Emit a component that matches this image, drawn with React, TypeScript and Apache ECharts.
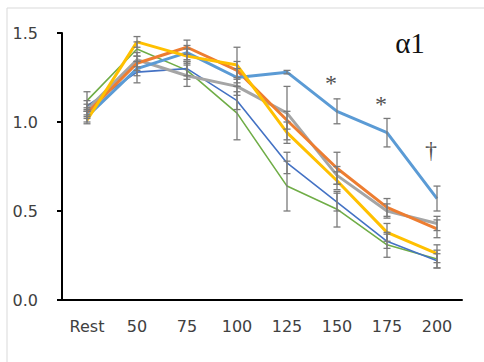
import React, { useEffect, useRef } from "react";
import * as echarts from "echarts";

const categories = ["Rest", "50", "75", "100", "125", "150", "175", "200"];
const yTicks = [0, 0.5, 1.0, 1.5];

const green = [1.12, 1.41, 1.29, 1.05, 0.64, 0.51, 0.31, 0.23];
const darkBlue = [1.09, 1.28, 1.3, 1.12, 0.77, 0.55, 0.33, 0.22];
const gray = [1.07, 1.35, 1.26, 1.2, 1.05, 0.7, 0.5, 0.43];
const orange = [1.05, 1.33, 1.42, 1.29, 1.01, 0.74, 0.52, 0.4];
const lightBlue = [1.03, 1.3, 1.39, 1.25, 1.28, 1.06, 0.94, 0.57];
const yellow = [1.01, 1.45, 1.37, 1.32, 0.94, 0.67, 0.38, 0.26];

const greenErr = [0.05, 0.04, 0.05, 0.15, 0.14, 0.1, 0.07, 0.05];
const darkBlueErr = [0.03, 0.06, 0.04, 0.05, 0.06, 0.05, 0.04, 0.04];
const grayErr = [0.03, 0.04, 0.06, 0.05, 0.15, 0.05, 0.04, 0.04];
const orangeErr = [0.03, 0.04, 0.04, 0.05, 0.05, 0.09, 0.05, 0.05];
const lightBlueErr = [0.03, 0.04, 0.04, 0.05, 0.01, 0.07, 0.08, 0.07];
const yellowErr = [0.02, 0.03, 0.04, 0.1, 0.06, 0.05, 0.05, 0.05];

const annotations = [
  { cat: "150", value: 1.22, text: "*" },
  { cat: "175", value: 1.1, text: "*" },
  { cat: "200", value: 0.84, text: "†" },
];

const seriesDefs = [
  { name: "G6", data: green, err: greenErr, color: "#70AD47", width: 1.6 },
  { name: "G5", data: darkBlue, err: darkBlueErr, color: "#4472C4", width: 1.6 },
  { name: "G3", data: gray, err: grayErr, color: "#A5A5A5", width: 3 },
  { name: "G2", data: orange, err: orangeErr, color: "#ED7D31", width: 3 },
  { name: "G1", data: lightBlue, err: lightBlueErr, color: "#5B9BD5", width: 3 },
  { name: "G4", data: yellow, err: yellowErr, color: "#FFC000", width: 3 },
];

export default function App() {
  const ref = useRef<HTMLDivElement>(null);
  useEffect(() => {
    document.body.style.margin = "0";
    const chart = echarts.init(ref.current!, null, { renderer: "svg" });
    const errData: number[][] = [];
    seriesDefs.forEach((s) => {
      s.data.forEach((v, i) => errData.push([i, v - s.err[i], v + s.err[i]]));
    });
    const font = "DejaVu Sans, Verdana, sans-serif";
    chart.setOption({
      animation: false,
      grid: { left: 62, right: 22, top: 33, bottom: 62 },
      xAxis: {
        type: "category",
        data: categories,
        boundaryGap: true,
        axisLine: { lineStyle: { color: "#000", width: 2 } },
        axisTick: { show: false },
        axisLabel: { color: "#404040", fontSize: 16, fontFamily: font, margin: 18 },
      },
      yAxis: {
        type: "value",
        min: yTicks[0],
        max: yTicks[yTicks.length - 1],
        interval: 0.5,
        axisLine: { show: true, lineStyle: { color: "#000", width: 2 } },
        axisTick: { show: true, length: 5, lineStyle: { color: "#000", width: 2 } },
        splitLine: { show: false },
        axisLabel: {
          color: "#404040",
          fontSize: 16,
          fontFamily: font,
          margin: 24,
          formatter: (v: number) => v.toFixed(1),
        },
      },
      graphic: [
        { type: "line", shape: { x1: 7, y1: 8, x2: 484, y2: 8 }, style: { stroke: "#d9d9d9", lineWidth: 1 } },
        { type: "line", shape: { x1: 7, y1: 8, x2: 7, y2: 362 }, style: { stroke: "#d9d9d9", lineWidth: 1 } },
        {
          type: "text",
          x: 410,
          y: 43,
          style: {
            text: "α1",
            font: "29px 'Liberation Serif', 'Times New Roman', serif",
            fill: "#111",
            textAlign: "center",
            textVerticalAlign: "middle",
          },
        },
      ],
      series: [
        ...seriesDefs.map((s) => ({
          type: "line",
          name: s.name,
          data: s.data,
          showSymbol: false,
          symbol: "none",
          lineStyle: { color: s.color, width: s.width },
          itemStyle: { color: s.color },
          z: 3,
        })),
        {
          type: "custom",
          name: "err",
          data: errData,
          encode: { x: 0, y: [1, 2] },
          z: 4,
          renderItem: (params: any, api: any) => {
            const i = api.value(0);
            const lo = api.coord([i, api.value(1)]);
            const hi = api.coord([i, api.value(2)]);
            const hw = 3.5;
            const st = { stroke: "#7a7a7a", lineWidth: 1.3 };
            return {
              type: "group",
              children: [
                { type: "line", shape: { x1: lo[0], y1: lo[1], x2: hi[0], y2: hi[1] }, style: st },
                { type: "line", shape: { x1: lo[0] - hw, y1: lo[1], x2: lo[0] + hw, y2: lo[1] }, style: st },
                { type: "line", shape: { x1: hi[0] - hw, y1: hi[1], x2: hi[0] + hw, y2: hi[1] }, style: st },
              ],
            };
          },
        },
        {
          type: "scatter",
          name: "sig",
          symbolSize: 1,
          itemStyle: { color: "transparent" },
          data: annotations.map((a) => ({ value: [a.cat, a.value], name: a.text })),
          label: {
            show: true,
            position: "inside",
            offset: [-6, 0],
            formatter: (p: any) => p.name,
            fontFamily: "'Liberation Serif', 'Times New Roman', serif",
            fontSize: 24,
            color: "#222",
          },
          z: 5,
        },
      ],
    });
    return () => chart.dispose();
  }, []);
  return <div ref={ref} style={{ width: 484, height: 362 }} />;
}
